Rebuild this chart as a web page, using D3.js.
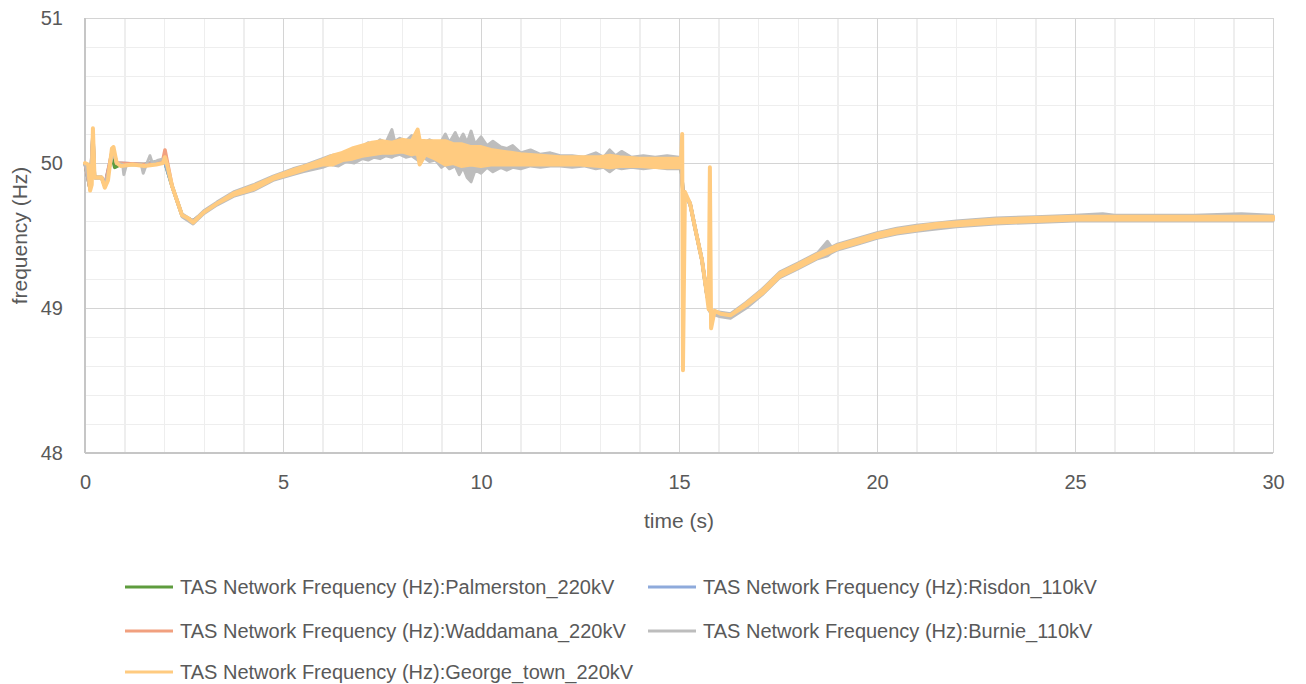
<!DOCTYPE html>
<html>
<head>
<meta charset="utf-8">
<script src="https://cdn.jsdelivr.net/npm/d3@7"></script>
<style>
  body { margin: 0; background: #fff; }
  text { font-family: "Liberation Sans", Arial, sans-serif; fill: #595959; }
  .grid line { shape-rendering: crispEdges; }
</style>
</head>
<body>
<script>
// x ticks (s) and y ticks (Hz)
var xTicks = [0, 5, 10, 15, 20, 25, 30];
var yTicks = [48, 49, 50, 51];

var seriesNames = [
  "TAS Network Frequency (Hz):Palmerston_220kV",
  "TAS Network Frequency (Hz):Risdon_110kV",
  "TAS Network Frequency (Hz):Waddamana_220kV",
  "TAS Network Frequency (Hz):Burnie_110kV",
  "TAS Network Frequency (Hz):George_town_220kV"
];
var seriesColors = ["#5e9c3e", "#8eaadb", "#f1a07f", "#bdbdbd", "#ffcb80"];

// [time, frequency]
var palmerston = [
  [0, 50.0], [0.13, 49.82], [0.2, 50.18], [0.24, 49.9], [0.42, 49.9], [0.5, 49.84],
  [0.68, 50.05], [0.75, 49.97], [0.9, 49.99], [1.5, 49.99], [2.0, 50.02], [2.2, 49.84],
  [2.45, 49.64], [2.73, 49.6], [3.0, 49.66], [3.33, 49.72], [3.75, 49.78], [4.25, 49.83],
  [4.75, 49.89], [5.25, 49.94], [6.0, 50.0], [7.0, 50.08], [8.0, 50.11], [9.0, 50.07],
  [10.0, 50.04], [11.0, 50.02], [12.0, 50.01], [13.0, 50.01], [14.0, 50.0], [15.05, 50.0],
  [15.1, 49.8], [15.28, 49.72], [15.4, 49.56], [15.58, 49.33], [15.7, 49.1], [15.8, 48.97],
  [16.05, 48.96], [16.3, 48.95], [16.7, 49.02], [17.1, 49.11], [17.55, 49.23], [18.0, 49.29],
  [18.5, 49.36], [19.0, 49.42], [19.5, 49.46], [20.0, 49.5], [21.0, 49.55], [22.0, 49.58],
  [23.0, 49.6], [24.0, 49.61], [25.0, 49.62], [30.0, 49.62]
];
var risdon = [
  [0, 50.0], [0.13, 49.82], [0.2, 50.2], [0.24, 49.9], [0.42, 49.9], [0.5, 49.84],
  [0.7, 50.1], [0.8, 50.0], [1.5, 49.99], [2.0, 50.02], [2.2, 49.84], [2.45, 49.64],
  [2.73, 49.6], [3.0, 49.66], [3.33, 49.72], [3.75, 49.78], [4.25, 49.83], [4.75, 49.89],
  [5.25, 49.94], [6.0, 50.0], [7.0, 50.09], [8.0, 50.12], [9.0, 50.07], [10.0, 50.04],
  [11.0, 50.03], [12.0, 50.01], [13.0, 50.01], [14.0, 50.0], [15.05, 50.0], [15.1, 49.8],
  [15.28, 49.72], [15.4, 49.56], [15.58, 49.33], [15.7, 49.1], [15.8, 48.97], [16.05, 48.96],
  [16.3, 48.95], [16.7, 49.02], [17.1, 49.11], [17.55, 49.23], [18.0, 49.29], [18.5, 49.36],
  [19.0, 49.42], [19.5, 49.46], [20.0, 49.5], [21.0, 49.55], [22.0, 49.58], [23.0, 49.6],
  [24.0, 49.61], [25.0, 49.62], [30.0, 49.62]
];
var waddamana = [
  [0, 50.0], [0.13, 49.82], [0.2, 50.2], [0.24, 49.9], [0.42, 49.9], [0.5, 49.84],
  [0.7, 50.1], [0.8, 50.0], [1.5, 49.99], [1.95, 50.0], [2.02, 50.09], [2.1, 49.98],
  [2.2, 49.84], [2.45, 49.64], [2.73, 49.6], [3.0, 49.66], [3.33, 49.72], [3.75, 49.78],
  [4.25, 49.83], [4.75, 49.89], [5.25, 49.94], [6.0, 50.0], [7.0, 50.09], [8.0, 50.12],
  [9.0, 50.07], [10.0, 50.04], [11.0, 50.03], [12.0, 50.01], [13.0, 50.01], [14.0, 50.0],
  [15.05, 50.0], [15.1, 49.8], [15.28, 49.72], [15.4, 49.56], [15.58, 49.33], [15.7, 49.1],
  [15.8, 48.97], [16.05, 48.96], [16.3, 48.95], [16.7, 49.02], [17.1, 49.11], [17.55, 49.23],
  [18.0, 49.29], [18.5, 49.36], [19.0, 49.42], [19.5, 49.46], [20.0, 49.5], [21.0, 49.55],
  [22.0, 49.58], [23.0, 49.6], [24.0, 49.61], [25.0, 49.62], [30.0, 49.62]
];

// [time, low, high] – envelope of the noisy traces
var burnie = [
  [0, 50.0, 50.0], [0.13, 49.82, 49.82], [0.2, 50.2, 50.2], [0.24, 49.9, 49.9],
  [0.42, 49.9, 49.9], [0.5, 49.84, 49.84], [0.72, 50.08, 50.08], [0.8, 50.0, 50.0],
  [0.95, 49.99, 49.99], [0.98, 49.92, 49.92], [1.05, 49.99, 49.99], [1.42, 49.99, 49.99],
  [1.47, 49.93, 49.93], [1.55, 49.99, 49.99], [1.64, 50.05, 50.05], [1.7, 50.0, 50.0],
  [1.85, 50.02, 50.02], [2.0, 50.03, 50.03], [2.08, 49.98, 49.98], [2.2, 49.84, 49.84],
  [2.45, 49.63, 49.65], [2.73, 49.58, 49.6], [3.0, 49.65, 49.67], [3.33, 49.71, 49.73],
  [3.75, 49.77, 49.8], [4.25, 49.81, 49.85], [4.75, 49.88, 49.91], [5.25, 49.92, 49.96],
  [5.5, 49.94, 49.98], [6.0, 49.97, 50.03], [6.2, 49.99, 50.05], [6.4, 49.98, 50.06],
  [6.6, 50.01, 50.08], [6.8, 50.0, 50.09], [7.0, 50.03, 50.11], [7.15, 50.02, 50.14],
  [7.3, 50.04, 50.12], [7.45, 50.03, 50.16], [7.6, 50.05, 50.14], [7.75, 50.04, 50.23],
  [7.82, 50.05, 50.15], [7.95, 50.06, 50.17], [8.1, 50.04, 50.15], [8.25, 50.05, 50.19],
  [8.4, 50.02, 50.16], [8.55, 50.04, 50.14], [8.7, 50.01, 50.16], [8.85, 50.02, 50.14],
  [9.0, 49.97, 50.15], [9.1, 49.99, 50.2], [9.2, 49.96, 50.14], [9.35, 49.98, 50.21],
  [9.45, 49.92, 50.15], [9.55, 49.97, 50.2], [9.65, 49.9, 50.14], [9.75, 49.87, 50.22],
  [9.85, 49.95, 50.13], [10.0, 49.93, 50.18], [10.15, 49.97, 50.12], [10.3, 49.94, 50.15],
  [10.5, 49.97, 50.11], [10.65, 49.95, 50.1], [10.8, 49.97, 50.12], [11.0, 49.96, 50.07],
  [11.25, 49.98, 50.09], [11.5, 49.97, 50.06], [11.75, 49.98, 50.07], [12.0, 49.98, 50.05],
  [12.3, 49.97, 50.05], [12.6, 49.98, 50.04], [12.9, 49.96, 50.07], [13.1, 49.97, 50.04],
  [13.25, 49.94, 50.09], [13.4, 49.97, 50.05], [13.55, 49.96, 50.08], [13.8, 49.97, 50.04],
  [14.1, 49.96, 50.05], [14.4, 49.97, 50.04], [14.7, 49.96, 50.05], [15.0, 49.96, 50.04],
  [15.05, 50.0, 50.0], [15.1, 49.8, 49.8], [15.28, 49.71, 49.73], [15.4, 49.55, 49.57],
  [15.58, 49.32, 49.34], [15.7, 49.09, 49.11], [15.8, 48.96, 48.98], [16.05, 48.94, 48.97],
  [16.3, 48.93, 48.96], [16.7, 49.0, 49.04], [17.1, 49.09, 49.13], [17.55, 49.21, 49.25],
  [18.0, 49.27, 49.31], [18.5, 49.34, 49.38], [18.75, 49.36, 49.46], [18.85, 49.38, 49.42],
  [19.0, 49.4, 49.44], [19.5, 49.44, 49.48], [20.0, 49.48, 49.52], [20.5, 49.51, 49.55],
  [21.0, 49.53, 49.57], [22.0, 49.56, 49.6], [23.0, 49.58, 49.62], [24.0, 49.59, 49.63],
  [25.0, 49.6, 49.64], [25.7, 49.6, 49.65], [26.0, 49.6, 49.64], [28.0, 49.6, 49.64],
  [29.2, 49.6, 49.65], [30.0, 49.6, 49.64]
];
var georgeTown = [
  [0, 50.0, 50.0], [0.08, 49.99, 49.99], [0.13, 49.81, 49.81], [0.17, 49.85, 49.85],
  [0.2, 50.24, 50.24], [0.24, 49.9, 49.9], [0.42, 49.9, 49.9], [0.5, 49.83, 49.83],
  [0.58, 49.88, 49.88], [0.68, 50.1, 50.1], [0.72, 50.11, 50.11], [0.8, 50.0, 50.0],
  [0.9, 49.98, 49.98], [1.2, 49.99, 49.99], [1.5, 49.98, 49.98], [1.8, 49.99, 49.99],
  [1.97, 50.0, 50.0], [2.02, 50.04, 50.04], [2.08, 49.98, 49.98], [2.2, 49.84, 49.84],
  [2.45, 49.64, 49.64], [2.6, 49.62, 49.62], [2.73, 49.59, 49.59], [3.0, 49.66, 49.66],
  [3.33, 49.72, 49.72], [3.75, 49.78, 49.79], [4.25, 49.82, 49.84], [4.75, 49.89, 49.9],
  [5.25, 49.93, 49.95], [5.7, 49.97, 49.99], [6.0, 49.99, 50.02], [6.25, 49.99, 50.05],
  [6.5, 50.02, 50.07], [6.75, 50.03, 50.1], [7.0, 50.05, 50.12], [7.25, 50.06, 50.14],
  [7.5, 50.07, 50.15], [7.75, 50.07, 50.14], [8.0, 50.08, 50.16], [8.25, 50.06, 50.15],
  [8.4, 50.07, 50.23], [8.45, 49.99, 50.16], [8.6, 50.06, 50.15], [8.85, 50.03, 50.15],
  [9.1, 49.99, 50.15], [9.3, 50.0, 50.13], [9.5, 49.98, 50.13], [9.75, 49.99, 50.11],
  [10.0, 49.98, 50.11], [10.25, 49.99, 50.09], [10.5, 49.99, 50.08], [10.75, 49.99, 50.07],
  [11.0, 49.99, 50.06], [11.5, 49.99, 50.05], [12.0, 49.99, 50.04], [12.5, 49.99, 50.04],
  [13.0, 49.98, 50.04], [13.25, 49.97, 50.05], [13.5, 49.98, 50.04], [14.0, 49.98, 50.03],
  [14.5, 49.97, 50.03], [15.0, 49.97, 50.03], [15.05, 50.0, 50.0], [15.08, 50.2, 50.2],
  [15.1, 48.57, 48.57], [15.15, 49.8, 49.8], [15.28, 49.72, 49.72], [15.4, 49.56, 49.56],
  [15.58, 49.33, 49.33], [15.7, 49.1, 49.1], [15.75, 48.99, 48.99], [15.78, 49.97, 49.97],
  [15.81, 48.86, 48.86], [15.9, 48.98, 48.98], [16.05, 48.96, 48.96], [16.3, 48.95, 48.95],
  [16.7, 49.02, 49.03], [17.1, 49.1, 49.12], [17.55, 49.22, 49.24], [18.0, 49.28, 49.3],
  [18.5, 49.35, 49.37], [19.0, 49.41, 49.43], [19.5, 49.45, 49.47], [20.0, 49.49, 49.51],
  [20.5, 49.52, 49.54], [21.0, 49.54, 49.56], [21.5, 49.56, 49.58], [22.0, 49.57, 49.59],
  [23.0, 49.59, 49.61], [24.0, 49.6, 49.62], [25.0, 49.61, 49.63], [26.0, 49.61, 49.63],
  [28.0, 49.61, 49.63], [30.0, 49.61, 49.63]
];

var W = 1306, H = 684;
var plot = { left: 85, right: 1273, top: 18, bottom: 453 };

var svg = d3.select('body').append('svg')
  .attr('width', W).attr('height', H);

var x = d3.scaleLinear().domain([0, 30]).range([plot.left, plot.right]);
var y = d3.scaleLinear().domain([48, 51]).range([plot.bottom, plot.top]);

// minor grid
svg.append('g').attr('class', 'grid')
  .attr('transform', `translate(0,${plot.bottom})`)
  .call(d3.axisBottom(x).tickValues(d3.range(0, 31, 1)).tickSize(-(plot.bottom - plot.top)).tickFormat(''))
  .call(g => g.select('.domain').remove())
  .selectAll('line').attr('stroke', '#eeeeee').attr('stroke-width', 1.5);
svg.append('g').attr('class', 'grid')
  .attr('transform', `translate(${plot.left},0)`)
  .call(d3.axisLeft(y).tickValues(d3.range(48, 51.01, 0.2)).tickSize(-(plot.right - plot.left)).tickFormat(''))
  .call(g => g.select('.domain').remove())
  .selectAll('line').attr('stroke', '#eeeeee').attr('stroke-width', 1.5);

// major grid
svg.append('g').attr('class', 'grid')
  .attr('transform', `translate(0,${plot.bottom})`)
  .call(d3.axisBottom(x).tickValues(xTicks).tickSize(-(plot.bottom - plot.top)).tickFormat(''))
  .call(g => g.select('.domain').remove())
  .selectAll('line').attr('stroke', '#d4d4d4').attr('stroke-width', 1.5);
svg.append('g').attr('class', 'grid')
  .attr('transform', `translate(${plot.left},0)`)
  .call(d3.axisLeft(y).tickValues(yTicks).tickSize(-(plot.right - plot.left)).tickFormat(''))
  .call(g => g.select('.domain').remove())
  .selectAll('line').attr('stroke', '#d4d4d4').attr('stroke-width', 1.5);

// axis lines
svg.append('line').attr('x1', plot.left).attr('x2', plot.left)
  .attr('y1', plot.top).attr('y2', plot.bottom).attr('stroke', '#c6c6c6').attr('stroke-width', 2);
svg.append('line').attr('x1', plot.left).attr('x2', plot.right)
  .attr('y1', plot.bottom).attr('y2', plot.bottom).attr('stroke', '#c6c6c6').attr('stroke-width', 2);

// tick labels
svg.append('g')
  .attr('transform', `translate(${plot.left},0)`)
  .call(d3.axisLeft(y).tickValues(yTicks).tickSize(0).tickPadding(22).tickFormat(d3.format('d')))
  .call(g => g.select('.domain').remove())
  .selectAll('text').style('font-size', '20px').attr('fill', '#595959')
  .style('font-family', '"Liberation Sans", Arial, sans-serif');
svg.append('g')
  .attr('transform', `translate(0,${plot.bottom})`)
  .call(d3.axisBottom(x).tickValues(xTicks).tickSize(0).tickPadding(22).tickFormat(d3.format('d')))
  .call(g => g.select('.domain').remove())
  .selectAll('text').style('font-size', '20px').attr('fill', '#595959')
  .style('font-family', '"Liberation Sans", Arial, sans-serif');

// axis titles
svg.append('text')
  .attr('x', (plot.left + plot.right) / 2).attr('y', 528)
  .attr('text-anchor', 'middle').style('font-size', '21px')
  .text('time (s)');
svg.append('text')
  .attr('transform', `translate(27,${(plot.top + plot.bottom) / 2}) rotate(-90)`)
  .attr('text-anchor', 'middle').style('font-size', '21px')
  .text('frequency (Hz)');

// series
var line = d3.line().x(d => x(d[0])).y(d => y(d[1]));
var band = d3.area().x(d => x(d[0])).y0(d => y(d[1])).y1(d => y(d[2]));

var plotG = svg.append('g');
[palmerston, risdon, waddamana].forEach(function (s, i) {
  plotG.append('path').datum(s)
    .attr('d', line)
    .attr('fill', 'none')
    .attr('stroke', seriesColors[i])
    .attr('stroke-width', 3.5)
    .attr('stroke-linejoin', 'round');
});
[burnie, georgeTown].forEach(function (s, i) {
  plotG.append('path').datum(s)
    .attr('d', band)
    .attr('fill', seriesColors[i + 3])
    .attr('stroke', seriesColors[i + 3])
    .attr('stroke-width', i === 0 ? 3 : 4)
    .attr('stroke-linejoin', 'round');
});

// legend
var legendPos = [
  [125, 587], [648, 587],
  [125, 631], [648, 631],
  [125, 672]
];
var legend = svg.append('g').selectAll('g')
  .data(seriesNames)
  .enter().append('g')
  .attr('transform', (d, i) => `translate(${legendPos[i][0]},${legendPos[i][1]})`);
legend.append('line')
  .attr('x1', 0).attr('x2', 48)
  .attr('stroke', (d, i) => seriesColors[i])
  .attr('stroke-width', 3);
legend.append('text')
  .attr('x', 55).attr('dy', '0.35em')
  .style('font-size', '20px')
  .text(d => d);
</script>
</body>
</html>
